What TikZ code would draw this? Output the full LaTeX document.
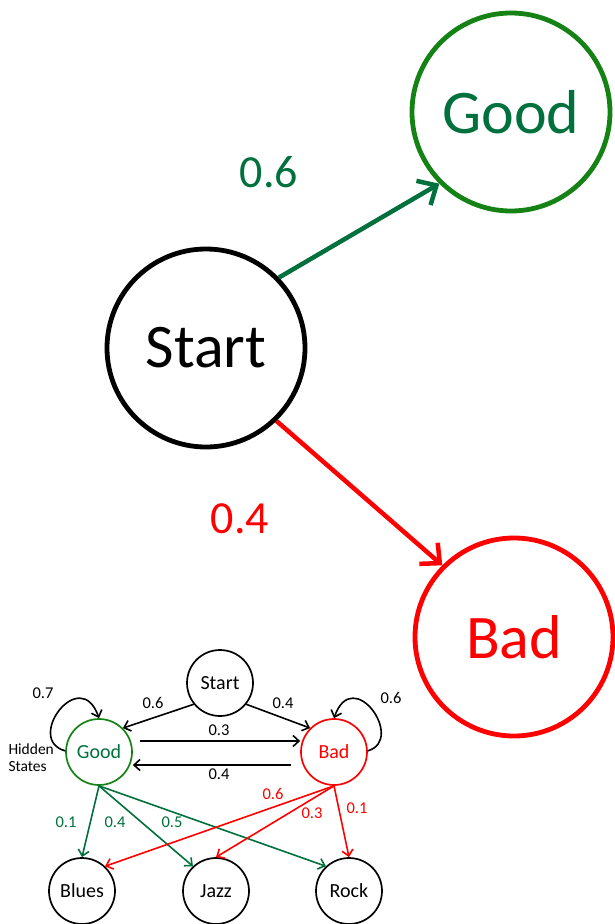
\documentclass[tikz,border=0pt]{standalone}
\usepackage{fontspec}
\setmainfont{Carlito}
\usetikzlibrary{arrows.meta}
\definecolor{gcircle}{RGB}{20,130,20}
\definecolor{gtext}{RGB}{0,112,60}
\definecolor{redc}{RGB}{255,0,0}

\begin{document}
\begin{tikzpicture}[x=1pt,y=-1pt,
  bigstate/.style={circle,draw,line width=4.8pt,minimum size=198pt,inner sep=0pt,
    font=\fontsize{62}{62}\selectfont},
  smallstate/.style={circle,draw,line width=1.7pt,minimum size=66pt,inner sep=0pt,
    font=\fontsize{20}{20}\selectfont},
  bigarrow/.style={line width=4.5pt,-{Straight Barb[length=15pt,width=28pt]}},
  smallarrow/.style={line width=1.6pt,-{Straight Barb[length=6pt,width=11pt]}},
  biglabel/.style={font=\fontsize{46}{46}\selectfont},
  smalllabel/.style={font=\fontsize{16.5}{16.5}\selectfont},
]
\useasboundingbox (0,0) rectangle (615,924);

% ---- large two-step view ----
\node[bigstate] (bstart) at (206,348) {Start};
\node[bigstate,draw=gcircle,text=gtext] (bgood) at (511,112) {Good};
\node[bigstate,draw=redc,text=redc] (bbad) at (514,637) {Bad};

\draw[bigarrow,gtext] (bstart.44) -- (bgood.225);
\draw[bigarrow,redc] (bstart.-46) -- (bbad.135);

\node[biglabel,text=gtext] (lgood) at (269,172) {0.6};
\node[biglabel,text=redc] (lbad) at (240,519) {0.4};

% ---- small hidden Markov model ----
\node[smallstate] (sstart) at (220,683) {Start};
\node[smallstate,draw=gcircle,text=gtext] (sgood) at (99,752) {Good};
\node[smallstate,draw=redc,text=redc] (sbad) at (334,752) {Bad};
\node[smallstate] (blues) at (82,891) {Blues};
\node[smallstate] (jazz) at (216,891) {Jazz};
\node[smallstate] (rock) at (349,891) {Rock};

% initial probabilities
\draw[smallarrow] (sstart.-141) -- (sgood.45);
\draw[smallarrow] (sstart.-39) -- (sbad.135);
\node[smalllabel] (ls1) at (153,703) {0.6};
\node[smalllabel] (ls2) at (283,703) {0.4};

% transitions
\draw[smallarrow] ([yshift=11pt]sgood.east) ++(7,0) -- ([yshift=11pt]sbad.west);
\draw[smallarrow] ([yshift=-13pt]sbad.west) ++(-9,0) -- ([yshift=-13pt]sgood.east);
\node[smalllabel] (lt1) at (219,730) {0.3};
\node[smalllabel] (lt2) at (219,774) {0.4};

% self loops
\draw[smallarrow] (sgood.178) .. controls +(-41,-11) and +(-19,-54) .. (sgood.90);
\draw[smallarrow] (sbad.2) .. controls +(38,-11) and +(19,-54) .. (sbad.90);
\node[smalllabel] (lloop1) at (43,693) {0.7};
\node[smalllabel] (lloop2) at (391,698) {0.6};

\node[font=\fontsize{15.5}{17}\selectfont,align=left,anchor=west] (hidden) at (5,758) {Hidden\\States};

% emissions
\draw[smallarrow,gtext] (sgood.south) -- (blues.north);
\draw[smallarrow,gtext] (sgood.south) -- (jazz.133);
\draw[smallarrow,gtext] (sgood.south) -- (rock.133);
\draw[smallarrow,redc] (sbad.south) -- (blues.47);
\draw[smallarrow,redc] (sbad.south) -- (jazz.north);
\draw[smallarrow,redc] (sbad.south) -- (rock.north);

\node[smalllabel,text=gtext] (e1) at (66,822) {0.1};
\node[smalllabel,text=gtext] (e2) at (115,822) {0.4};
\node[smalllabel,text=gtext] (e3) at (172,822) {0.5};
\node[smalllabel,text=redc] (e4) at (273,794) {0.6};
\node[smalllabel,text=redc] (e5) at (312,813) {0.3};
\node[smalllabel,text=redc] (e6) at (357,808) {0.1};
\end{tikzpicture}
\end{document}
